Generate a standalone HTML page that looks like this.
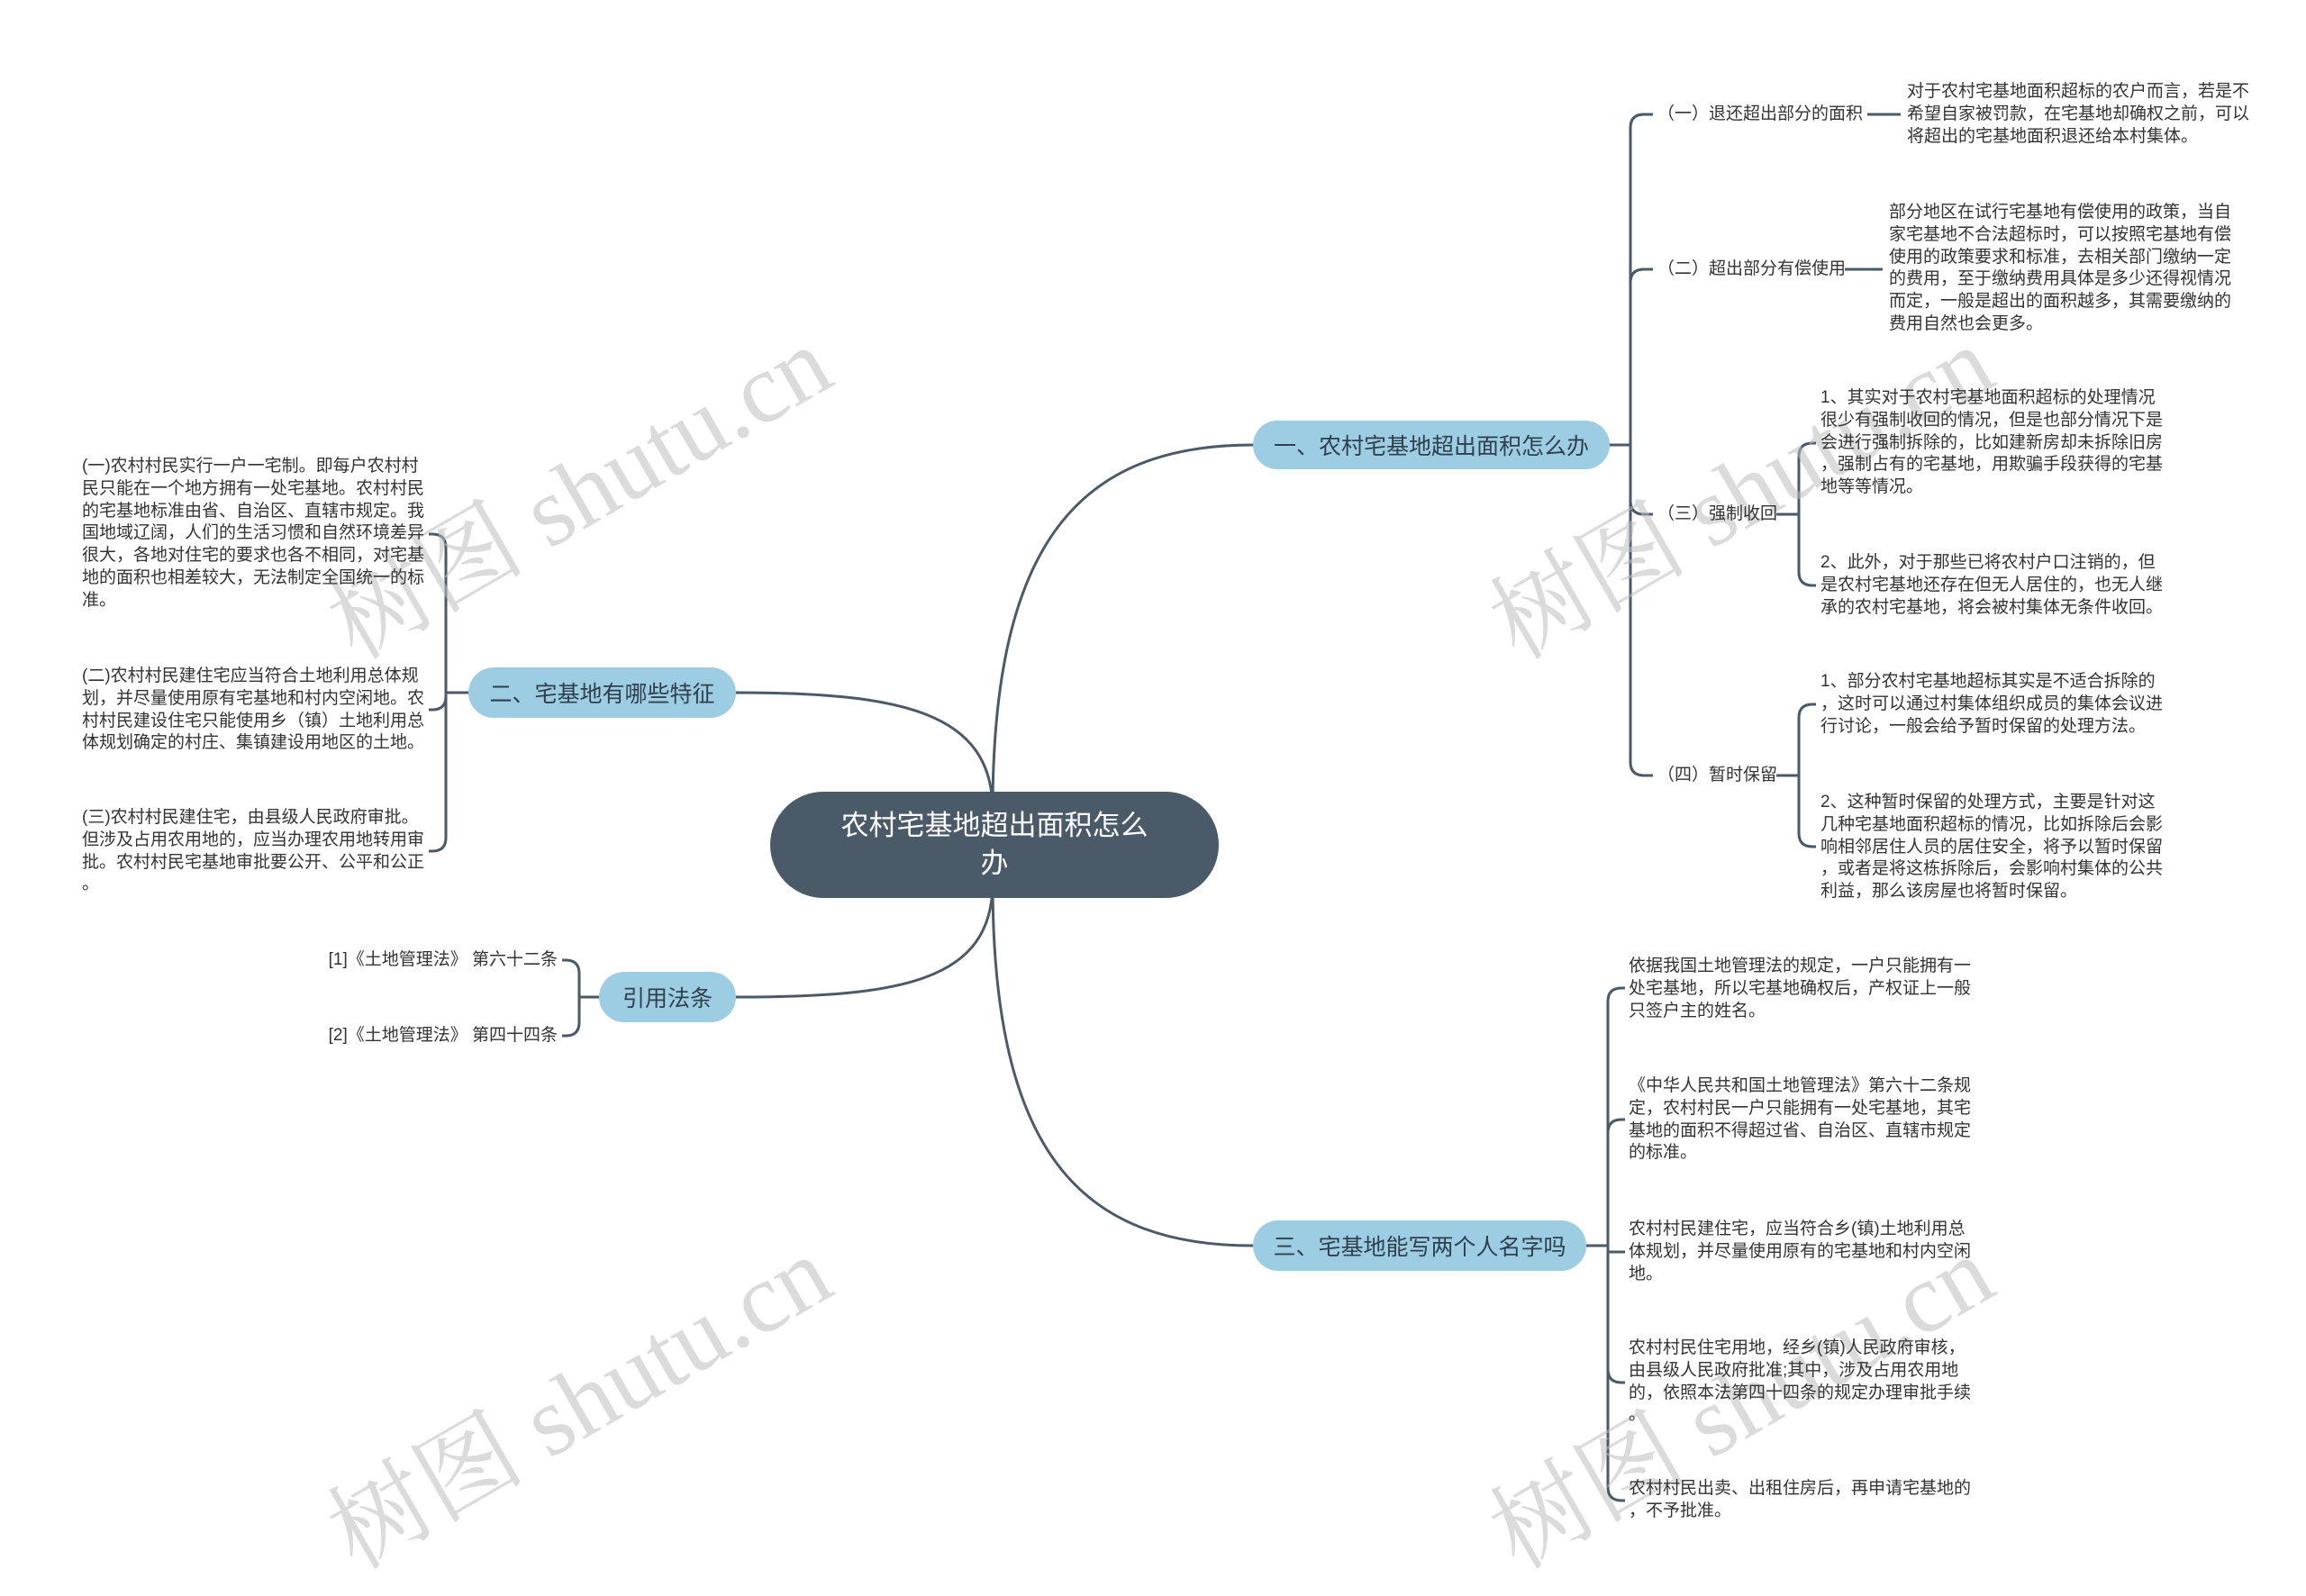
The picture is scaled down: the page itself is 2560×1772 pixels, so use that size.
<!DOCTYPE html>
<html><head><meta charset="utf-8">
<style>
body{margin:0;width:2560px;height:1764px;background:#fff;position:relative;overflow:hidden;font-family:"Liberation Sans","Noto Sans CJK SC",sans-serif;}
.t{position:absolute;font-size:19px;line-height:24.75px;color:#333;white-space:pre;}
.b{position:absolute;background:#9ccde3;border-radius:30px;color:#2f3f4c;font-size:25px;display:flex;align-items:center;justify-content:center;white-space:nowrap;}
.wm{position:absolute;font-family:"Liberation Serif","Noto Serif CJK SC",serif;font-size:110px;color:rgba(190,190,190,0.55);transform:rotate(-30deg);white-space:nowrap;transform-origin:center;}
</style></head><body>
<svg width="2560" height="1764" style="position:absolute;left:0;top:0" fill="none" stroke="#4a5a69" stroke-width="3">
<path d="M1102,900 C1102,600 1200,494 1391,494"/>
<path d="M1102,900 C1102,790 1000,769 817,769"/>
<path d="M1102,980 C1102,1090 1000,1107 817,1107"/>
<path d="M1102,980 C1102,1280 1200,1383 1391,1383"/>
<!-- branch1 -->
<path d="M1787,494 L1810,494"/>
<path d="M1810,494 L1810,142 Q1810,127 1825,127 L1835,127"/>
<path d="M1810,494 L1810,314 Q1810,299 1825,299 L1835,299"/>
<path d="M1810,494 L1810,556 Q1810,571 1825,571 L1835,571"/>
<path d="M1810,494 L1810,846 Q1810,861 1825,861 L1835,861"/>
<path d="M2073,127 L2110,127"/>
<path d="M2048,299 L2090,299"/>
<path d="M1972,571 L1997,571 M1997,571 L1997,507 Q1997,492 2012,492 L2016,492 M1997,571 L1997,635 Q1997,650 2012,650 L2016,650"/>
<path d="M1972,861 L1997,861 M1997,861 L1997,797 Q1997,782 2012,782 L2016,782 M1997,861 L1997,925 Q1997,940 2012,940 L2016,940"/>
<!-- branch2 -->
<path d="M520,769 L495,769 M495,769 L495,608 Q495,593 480,593 L476,593 M495,769 L495,773 Q495,788 480,788 L476,788 M495,769 L495,930 Q495,945 480,945 L476,945"/>
<!-- cites -->
<path d="M665,1107 L643,1107 M643,1107 L643,1081 Q643,1066 628,1066 L624,1066 M643,1107 L643,1135 Q643,1150 628,1150 L624,1150"/>
<!-- branch3 -->
<path d="M1761,1383 L1785,1383 M1785,1383 L1785,1112 Q1785,1097 1800,1097 L1804,1097 M1785,1383 L1785,1258 Q1785,1243 1800,1243 L1804,1243 M1785,1383 L1785,1390 Q1785,1390 1804,1390 M1785,1383 L1785,1520 Q1785,1535 1800,1535 L1804,1535 M1785,1383 L1785,1651 Q1785,1666 1800,1666 L1804,1666"/>
</svg>

<div class="wm" style="left:330px;top:460px">树图 shutu.cn</div>
<div class="wm" style="left:1620px;top:460px">树图 shutu.cn</div>
<div class="wm" style="left:330px;top:1470px">树图 shutu.cn</div>
<div class="wm" style="left:1620px;top:1470px">树图 shutu.cn</div>

<div style="position:absolute;left:855px;top:879px;width:498px;height:118px;background:#4a5a69;border-radius:59px;color:#fff;font-size:31px;line-height:42px;text-align:center;display:flex;align-items:center;justify-content:center;">农村宅基地超出面积怎么<br>办</div>

<div class="b" style="left:1391px;top:467px;width:396px;height:54px;">一、农村宅基地超出面积怎么办</div>
<div class="b" style="left:520px;top:741px;width:297px;height:56px;">二、宅基地有哪些特征</div>
<div class="b" style="left:665px;top:1079px;width:152px;height:56px;">引用法条</div>
<div class="b" style="left:1391px;top:1355px;width:370px;height:56px;">三、宅基地能写两个人名字吗</div>

<div class="t" style="left:1840px;top:115px">（一）退还超出部分的面积</div>
<div class="t" style="left:1840px;top:287px">（二）超出部分有偿使用</div>
<div class="t" style="left:1840px;top:559px">（三）强制收回</div>
<div class="t" style="left:1840px;top:849px">（四）暂时保留</div>

<div class="t" style="left:2117px;top:90px">对于农村宅基地面积超标的农户而言，若是不
希望自家被罚款，在宅基地却确权之前，可以
将超出的宅基地面积退还给本村集体。</div>
<div class="t" style="left:2097px;top:224px">部分地区在试行宅基地有偿使用的政策，当自
家宅基地不合法超标时，可以按照宅基地有偿
使用的政策要求和标准，去相关部门缴纳一定
的费用，至于缴纳费用具体是多少还得视情况
而定，一般是超出的面积越多，其需要缴纳的
费用自然也会更多。</div>
<div class="t" style="left:2021px;top:430px">1、其实对于农村宅基地面积超标的处理情况
很少有强制收回的情况，但是也部分情况下是
会进行强制拆除的，比如建新房却未拆除旧房
，强制占有的宅基地，用欺骗手段获得的宅基
地等等情况。</div>
<div class="t" style="left:2021px;top:613px">2、此外，对于那些已将农村户口注销的，但
是农村宅基地还存在但无人居住的，也无人继
承的农村宅基地，将会被村集体无条件收回。</div>
<div class="t" style="left:2021px;top:745px">1、部分农村宅基地超标其实是不适合拆除的
，这时可以通过村集体组织成员的集体会议进
行讨论，一般会给予暂时保留的处理方法。</div>
<div class="t" style="left:2021px;top:879px">2、这种暂时保留的处理方式，主要是针对这
几种宅基地面积超标的情况，比如拆除后会影
响相邻居住人员的居住安全，将予以暂时保留
，或者是将这栋拆除后，会影响村集体的公共
利益，那么该房屋也将暂时保留。</div>

<div class="t" style="left:91px;top:506px">(一)农村村民实行一户一宅制。即每户农村村
民只能在一个地方拥有一处宅基地。农村村民
的宅基地标准由省、自治区、直辖市规定。我
国地域辽阔，人们的生活习惯和自然环境差异
很大，各地对住宅的要求也各不相同，对宅基
地的面积也相差较大，无法制定全国统一的标
准。</div>
<div class="t" style="left:91px;top:739px">(二)农村村民建住宅应当符合土地利用总体规
划，并尽量使用原有宅基地和村内空闲地。农
村村民建设住宅只能使用乡（镇）土地利用总
体规划确定的村庄、集镇建设用地区的土地。</div>
<div class="t" style="left:91px;top:896px">(三)农村村民建住宅，由县级人民政府审批。
但涉及占用农用地的，应当办理农用地转用审
批。农村村民宅基地审批要公开、公平和公正
。</div>

<div class="t" style="left:360px;top:1054px;width:259px;text-align:right">[1]《土地管理法》 第六十二条</div>
<div class="t" style="left:360px;top:1138px;width:259px;text-align:right">[2]《土地管理法》 第四十四条</div>

<div class="t" style="left:1808px;top:1061px">依据我国土地管理法的规定，一户只能拥有一
处宅基地，所以宅基地确权后，产权证上一般
只签户主的姓名。</div>
<div class="t" style="left:1808px;top:1194px">《中华人民共和国土地管理法》第六十二条规
定，农村村民一户只能拥有一处宅基地，其宅
基地的面积不得超过省、自治区、直辖市规定
的标准。</div>
<div class="t" style="left:1808px;top:1353px">农村村民建住宅，应当符合乡(镇)土地利用总
体规划，并尽量使用原有的宅基地和村内空闲
地。</div>
<div class="t" style="left:1808px;top:1485px">农村村民住宅用地，经乡(镇)人民政府审核，
由县级人民政府批准;其中，涉及占用农用地
的，依照本法第四十四条的规定办理审批手续
。</div>
<div class="t" style="left:1808px;top:1641px">农村村民出卖、出租住房后，再申请宅基地的
，不予批准。</div>
</body></html>
